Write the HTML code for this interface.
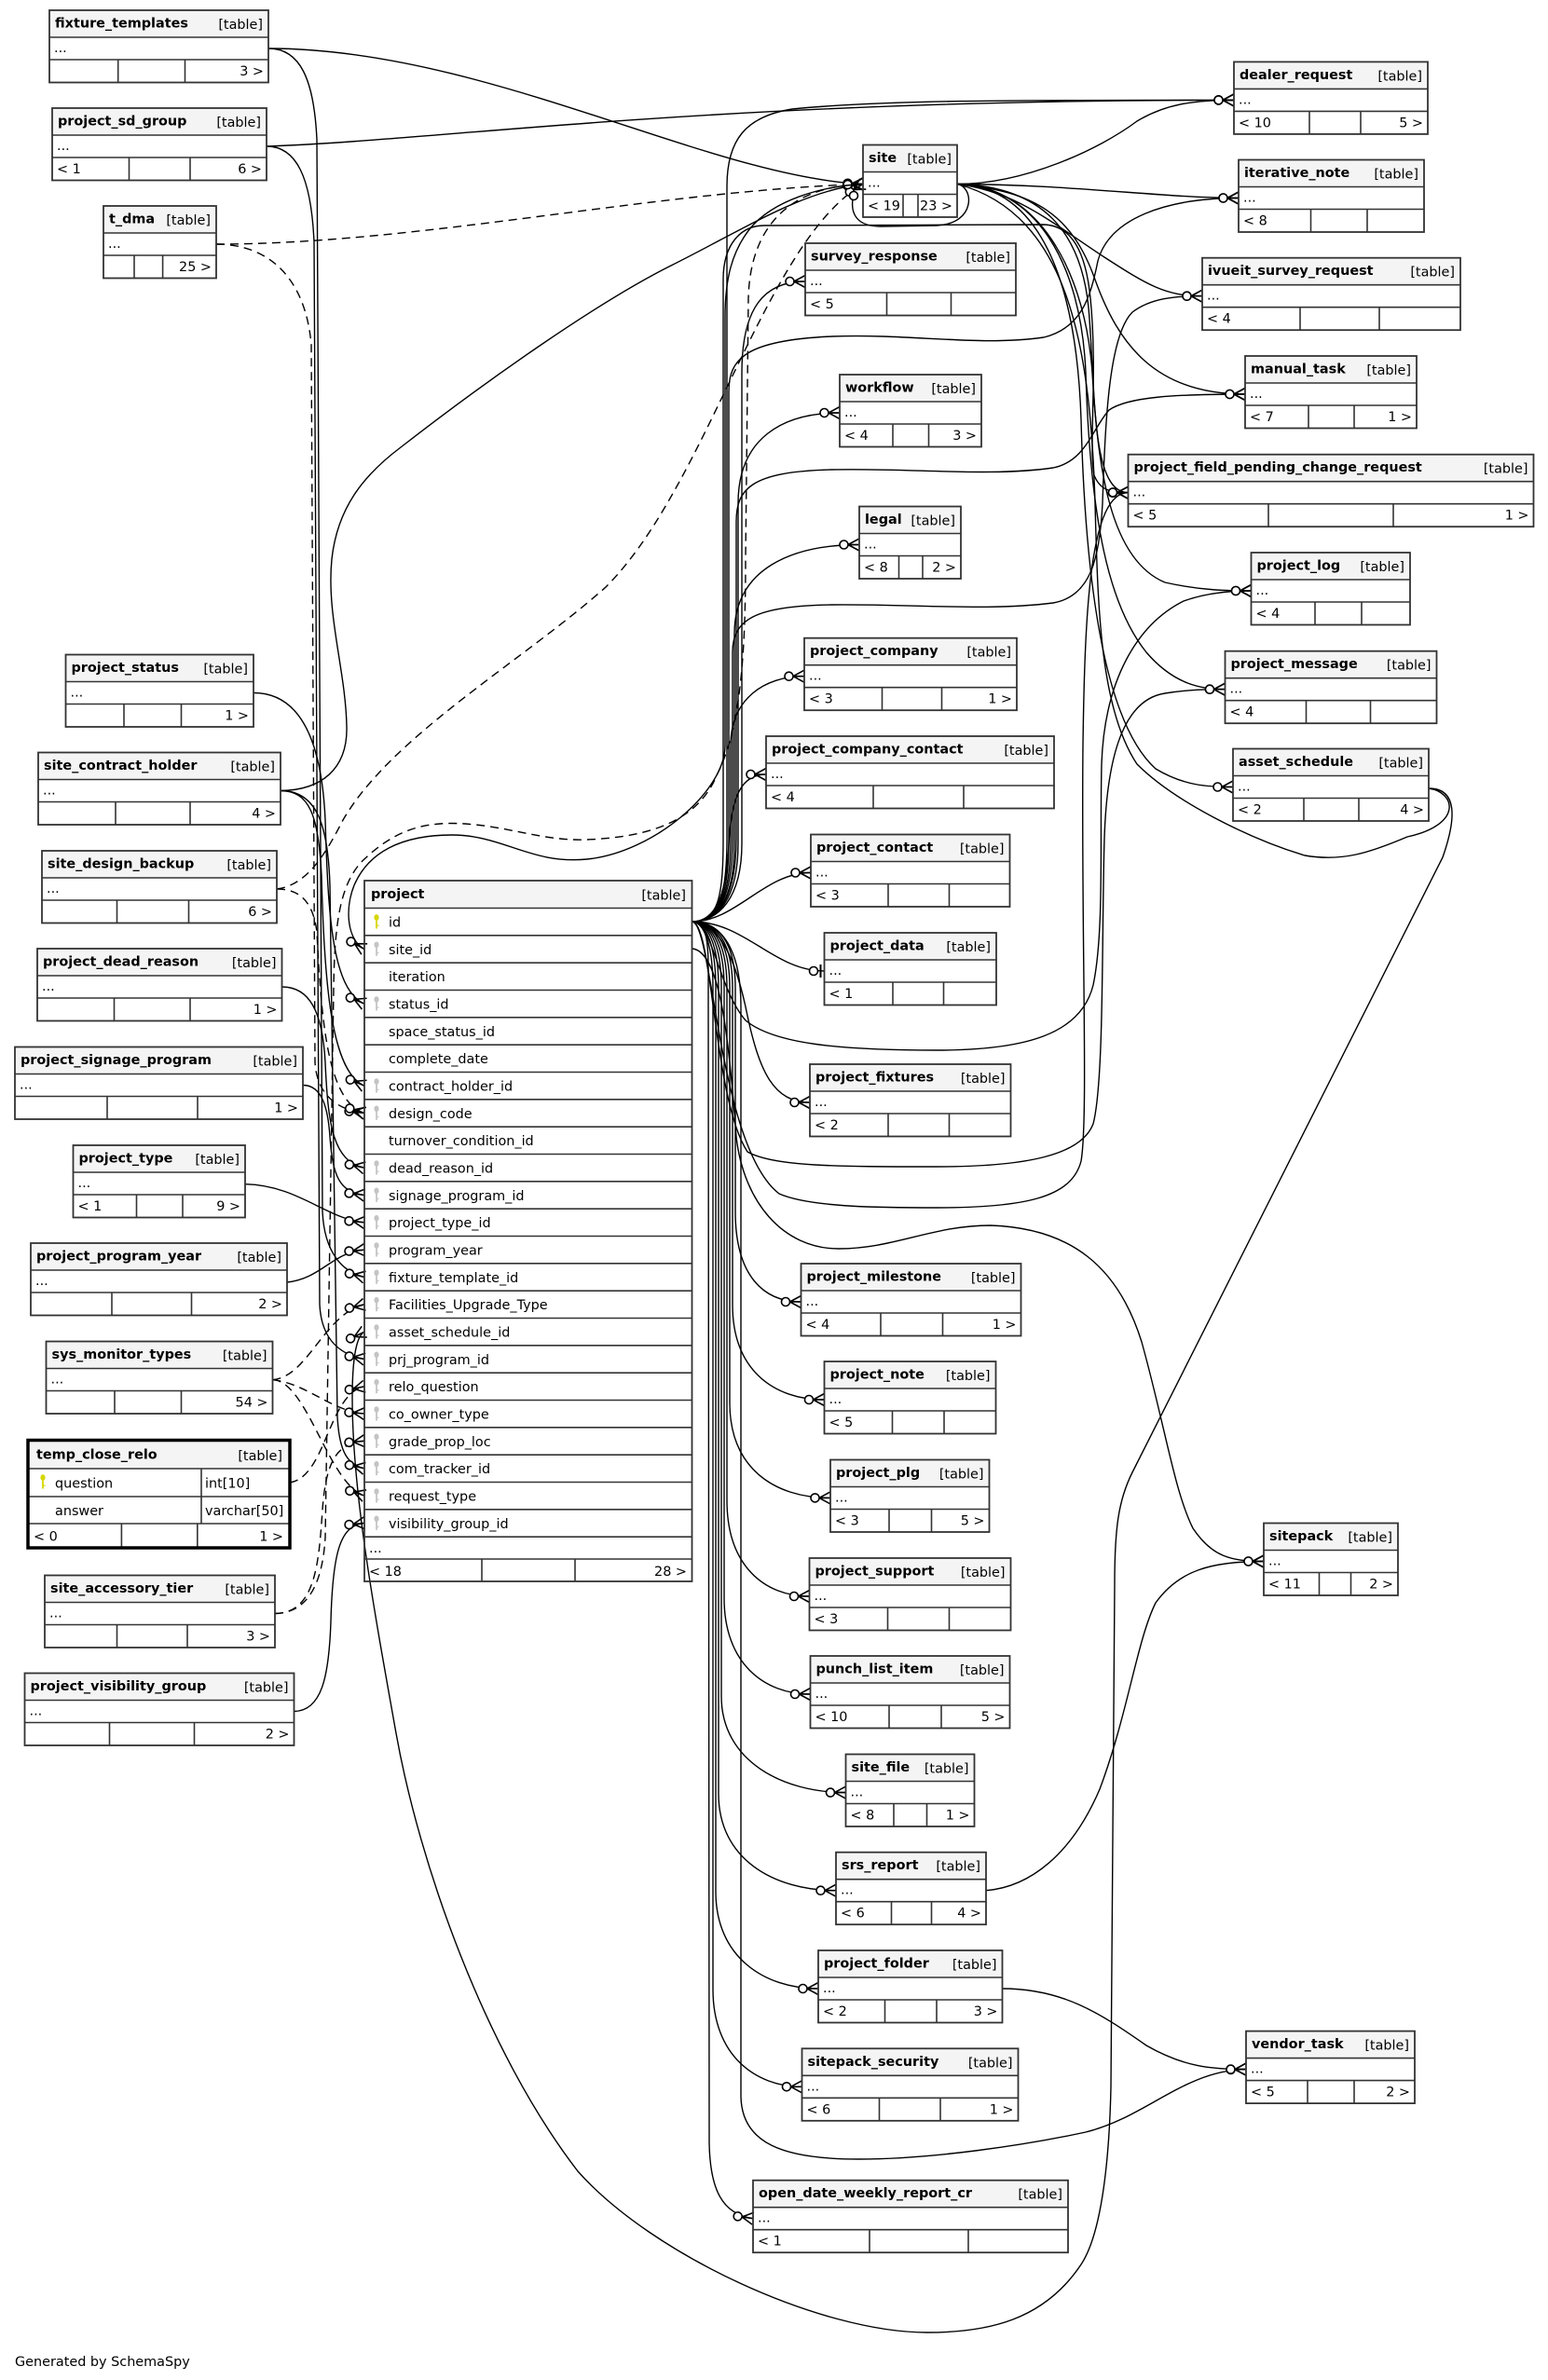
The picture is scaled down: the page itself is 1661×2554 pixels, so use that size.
<!DOCTYPE html>
<html><head><meta charset="utf-8"><style>
html,body{margin:0;padding:0;background:#fff}
svg{display:block}
.h{fill:#f4f4f4}
.b{fill:none;stroke:#333;stroke-width:1.8}
.s{fill:none;stroke:#333;stroke-width:1.6}
.n{font-weight:bold}
.e{text-anchor:end}
.c{fill:none;stroke:#000;stroke-width:1.4}
.d{stroke-dasharray:9 6}
text{fill:#000}
</style></head><body>
<svg xmlns="http://www.w3.org/2000/svg" width="1661" height="2554" viewBox="0 0 1661 2554" font-family="'DejaVu Sans', sans-serif" font-size="14.4">
<defs>
<marker id="m" markerUnits="userSpaceOnUse" markerWidth="40" markerHeight="30" viewBox="-30 -15 40 30" refX="0" refY="0" orient="auto">
<path d="M-12,0L0,-6.5M-12,0L0,0M-12,0L0,6.5" stroke="#000" stroke-width="1.6" fill="none"/>
<circle cx="-16.5" cy="0" r="4.5" fill="#fff" stroke="#000" stroke-width="1.6"/>
</marker>
<marker id="o" markerUnits="userSpaceOnUse" markerWidth="40" markerHeight="30" viewBox="-30 -15 40 30" refX="0" refY="0" orient="auto">
<path d="M-4,-7V7" stroke="#000" stroke-width="2" fill="none"/>
<circle cx="-11.5" cy="0" r="4.5" fill="#fff" stroke="#000" stroke-width="1.6"/>
</marker>
<g id="kp"><ellipse cx="0" cy="0" rx="2.6" ry="3.3" fill="#d6d600"/><rect x="-0.9" y="2" width="1.8" height="10" fill="#d6d600"/><rect x="0.9" y="8" width="1.6" height="1.3" fill="#d6d600"/></g>
<g id="kf"><ellipse cx="0" cy="0" rx="2.6" ry="3.3" fill="#c4c4c4"/><rect x="-0.9" y="2" width="1.8" height="10" fill="#c4c4c4"/><rect x="0.9" y="8" width="1.6" height="1.3" fill="#c4c4c4"/></g>
</defs>
<rect width="1661" height="2554" fill="#fff"/>

<!-- ===== connectors ===== -->
<g class="c">
<path marker-end="url(#m)" d="M288,52 C520,52 760,190 926,197.5"/>
<path marker-end="url(#m)" d="M288,52 C322,52 337,85 340,150 L346,1300 C348,1345 368,1365 391,1370.5"/>
<path marker-end="url(#m)" d="M286,157 C480,150 760,107.4 1324,107.4"/>
<path marker-end="url(#m)" d="M286,157 C318,157 334,190 337,260 L343,1400 C345,1440 367,1454 391,1458.5"/>
<path class="d" marker-end="url(#m)" d="M232,262 C450,262 700,205 926,197.5"/>
<path class="d" marker-end="url(#m)" d="M232,262 C290,262 328,300 334,370 L338,1140 C340,1175 362,1191 391,1194.5"/>
<path marker-end="url(#m)" d="M272,743.5 C320,743.5 345,790 349,880 C352,980 356,1062 391,1077.2"/>
<path marker-end="url(#m)" d="M301,848.5 C332,848.5 342,875 345,940 C348,1060 356,1150 391,1165.2"/>
<path marker-end="url(#m)" d="M301,848.5 C345,848 373,825 372,780 C371,720 350,660 356,600 C362,545 390,510 430,480 C520,410 640,325 720,285 C800,245 860,205 926,197.5"/>
<path marker-end="url(#m)" d="M301,848.5 C340,848.5 352,885 354,950 L362,1520 C364,1560 374,1572 391,1575.8"/>
<path class="d" marker-end="url(#m)" d="M297,954 C322,954 336,968 340,1000 C345,1100 352,1182 391,1194.5"/>
<path class="d" marker-end="url(#m)" d="M297,954 C330,950 350,915 368,880 C420,790 560,710 650,630 C760,520 820,260 926,197.5"/>
<path marker-end="url(#m)" d="M302.5,1059 C332,1059 346,1085 349,1140 C352,1210 358,1246 391,1253.2"/>
<path marker-end="url(#m)" d="M325,1164.5 C346,1164.5 352,1190 354,1220 C357,1262 364,1279 391,1282.5"/>
<path marker-end="url(#m)" d="M263,1270.7 C320,1272 350,1308 391,1311.8"/>
<path marker-end="url(#m)" d="M308,1376 C345,1372 356,1344 391,1341.2"/>
<path class="d" marker-end="url(#m)" d="M292.5,1480.6 C330,1478 348,1410 391,1399.8"/>
<path class="d" marker-end="url(#m)" d="M311,1591 C350,1585 352,1496 391,1487.8"/>
<path class="d" marker-end="url(#m)" d="M292.5,1480.6 C330,1485 355,1514 391,1517"/>
<path class="d" marker-end="url(#m)" d="M295,1731.5 C338,1731 342,1680 346,1620 C350,1566 362,1549 391,1546.3"/>
<path class="d" marker-end="url(#m)" d="M292.5,1480.6 C330,1482 352,1592 391,1605"/>
<path marker-end="url(#m)" d="M315.5,1836.5 C345,1836 353,1800 355,1740 C357,1662 366,1637 391,1634.4"/>
<path class="d" marker-end="url(#m)" d="M295,1731.5 C330,1731 346,1700 349,1650 L358,1060 C359,990 365,950 387.8,925 C420,893 450,883.5 484.7,883.5 C540,884 580,903 630,901 C700,898 750,880 770,830 C795,780 800,700 800,600 L803,320 C805,240 850,200 926,197.5"/>
<path marker-end="url(#m)" d="M1533,846 C1565,846 1562,880 1548,920 L1215,1580 C1200,1610 1196,1640 1196,1700 L1192,2240 C1190,2330 1180,2400 1160,2430 C1120,2490 1060,2503 995,2503 C880,2503 700,2420 620,2330 C520,2200 450,2000 425,1860 C400,1720 378,1600 378,1500 C378,1455 383,1433 391,1429.2"/>
<path d="M1027,197.5 C1045,200 1048,240 1005,242 L945,243 C918,243 913,228 915,214"/>
<path marker-end="url(#m)" d="M926,197.5 C880,200 830,215 805,245 C785,270 778,300 778,340 L778,800 C778,850 700,915 630,922 C570,928 540,896 484.7,896 C430,896 395,915 380,950 C370,975 372,1008 391,1018.5"/>
<path marker-end="url(#m)" d="M742.5,989 C770,989 776,965 776,900 L776,300 C776,262 795,242 820,242 L1120,241 C1150,242 1165,270 1170,320 C1178,400 1168,480 1174,510 C1180,525 1190,528.7 1210.5,528.7"/>

<path marker-end="url(#m)" d="M742.5,989 C770,989 796,965 796,905 L796,400 C796,330 820,302 864,302"/>
<path marker-end="url(#m)" d="M742.5,989 C770,989 792,965 792,905 L792,540 C792,470 840,443 901,443"/>
<path marker-end="url(#m)" d="M742.5,989 C770,989 788,965 788,905 L788,680 C788,610 850,584.5 922,584.5"/>
<path marker-end="url(#m)" d="M742.5,989 C770,989 784,965 784,900 L784,800 C784,750 820,725.7 863,725.7"/>
<path marker-end="url(#m)" d="M742.5,989 C772,989 780,950 782,905 C785,855 795,831 822,831"/>
<path marker-end="url(#m)" d="M742.5,989 C790,989 820,936.5 870,936.5"/>
<path marker-end="url(#o)" d="M742.5,989 C800,989 830,1042 884.5,1042"/>
<path marker-end="url(#m)" d="M742.5,989 C775,989 792,1040 802,1090 C815,1150 830,1183 869,1183"/>
<path marker-end="url(#m)" d="M742.5,989 C770,989 789,1010 789,1060 L789,1300 C789,1370 820,1397 859.5,1397"/>
<path marker-end="url(#m)" d="M742.5,989 C768,989 786,1010 786,1060 L786,1400 C786,1470 830,1502 884.5,1502"/>
<path marker-end="url(#m)" d="M742.5,989 C766,989 783,1010 783,1060 L783,1505 C783,1575 830,1607.4 891,1607.4"/>
<path marker-end="url(#m)" d="M742.5,989 C764,989 780,1010 780,1060 L780,1610 C780,1680 820,1713 868.5,1713"/>
<path marker-end="url(#m)" d="M742.5,989 C762,989 777,1010 777,1060 L777,1715 C777,1785 820,1818 869.5,1818"/>
<path marker-end="url(#m)" d="M742.5,989 C760,989 774,1010 774,1060 L774,1820 C774,1890 840,1923.6 907.5,1923.6"/>
<path marker-end="url(#m)" d="M742.5,989 C758,989 771,1010 771,1060 L771,1925 C771,1995 830,2028.7 897,2028.7"/>
<path marker-end="url(#m)" d="M742.5,989 C756,989 768,1010 768,1060 L768,2030 C768,2100 820,2134 878,2134"/>
<path marker-end="url(#m)" d="M742.5,989 C754,989 765,1010 765,1060 L765,2135 C765,2205 810,2239.3 860.5,2239.3"/>
<path marker-end="url(#m)" d="M742.5,989 C762,989 760,1020 760,1070 L761,2300 C762,2350 775,2376 808,2380.7"/>
<path marker-end="url(#m)" d="M742.5,989 C775,989 795,1020 795,1080 L795,2250 C796,2300 840,2317 921,2317 C1000,2317 1100,2302 1165,2288 C1230,2272 1270,2222 1337,2220.6"/>
<path marker-end="url(#m)" d="M742.5,1018 C772,1020 782,1110 790,1220 C798,1290 840,1340 900,1340 C960,1340 1000,1315 1063,1315 C1150,1318 1200,1360 1225,1440 C1250,1530 1260,1600 1280,1640 C1300,1670 1320,1675.5 1356,1675.5"/>
<path marker-end="url(#m)" d="M742.5,989 C770,989 780,965 780,900 L780,200 C780,150 800,125 850,117 C950,107 1100,107.4 1324,107.4"/>
<path marker-end="url(#m)" d="M742.5,989 C770,989 782,965 782,900 L782,420 C782,385 800,365 893,361 C980,358 1050,372 1120,362 C1160,352 1170,320 1178,280 C1190,235 1250,212.5 1329,212.5"/>
<path marker-end="url(#m)" d="M742.5,989 C770,989 790,965 790,900 L790,560 C790,525 805,506 892,504 C980,502 1060,512 1130,502 C1165,495 1172,460 1190,440 C1210,426 1260,423 1336,423"/>
<path marker-end="url(#m)" d="M742.5,989 C770,989 786,965 786,900 L786,700 C786,665 810,650 892,649 C980,648 1060,656 1130,647 C1170,640 1180,600 1183,540 C1186,450 1190,360 1215,335 C1235,320 1260,317.7 1290,317.7"/>
<path marker-end="url(#m)" d="M742.5,989 C765,989 770,1060 800,1095 C830,1120 900,1127 1005,1127 C1100,1127 1160,1110 1173,1057 C1185,1000 1180,900 1182,820 C1185,730 1220,670 1270,645 C1295,636 1320,634 1342.5,634"/>
<path marker-end="url(#m)" d="M742.5,989 C765,989 765,1180 802,1236 C830,1252 900,1252 1005,1252 C1100,1252 1160,1240 1173,1206 C1185,1160 1182,1000 1185,900 C1188,800 1210,750 1250,744 C1275,740 1295,739.7 1314.5,739.7"/>
<path marker-end="url(#m)" d="M742.5,989 C765,989 770,1230 836,1281 C870,1296 950,1296 1005,1296 C1100,1296 1150,1285 1160,1246 C1168,1200 1160,1000 1162,800 C1164,650 1170,528.7 1210.5,528.7"/>

<path marker-end="url(#m)" d="M1027,197.5 C1100,197.5 1180,160 1220,130 C1250,112 1280,107.4 1324,107.4"/>
<path marker-end="url(#m)" d="M1027,197.5 C1150,198 1250,212.5 1329,212.5"/>
<path marker-end="url(#m)" d="M1027,197.5 C1090,205 1130,240 1185,276 C1230,305 1250,317.7 1290,317.7"/>
<path marker-end="url(#m)" d="M1027,197.5 C1110,205 1150,230 1175,300 C1200,370 1240,423 1336,423"/>
<path marker-end="url(#m)" d="M1027,197.5 C1120,200 1160,250 1168,330 C1176,420 1170,528 1210.5,528.7"/>
<path marker-end="url(#m)" d="M1027,197.5 C1120,200 1165,300 1172,400 C1178,500 1190,600 1250,625 C1290,634 1320,634 1342.5,634"/>
<path marker-end="url(#m)" d="M1027,197.5 C1110,200 1160,280 1165,400 C1170,560 1190,650 1230,700 C1260,735 1290,739.7 1314.5,739.7"/>
<path marker-end="url(#m)" d="M1027,197.5 C1115,200 1155,300 1160,450 C1165,650 1190,780 1240,825 C1270,843 1295,844.5 1323,844.5"/>
<path d="M1533,846 C1562,850 1570,885 1510,898 C1470,915 1440,925 1400,918 C1340,900 1260,860 1220,820 C1180,760 1178,650 1175,540 C1170,380 1150,230 1027,197.5"/>
<path marker-end="url(#m)" d="M1058,2028.7 C1105,2025 1150,1990 1180,1920 C1210,1840 1220,1760 1240,1720 C1265,1685 1300,1675.5 1356,1675.5"/>
<path marker-end="url(#m)" d="M1075.5,2134 C1140,2134 1180,2160 1230,2195 C1270,2218 1300,2220.6 1337,2220.6"/>
</g>
<circle cx="916" cy="210" r="4.5" fill="#fff" stroke="#000" stroke-width="1.6"/>

<!-- ===== tables ===== -->
<g transform="translate(53,11)"><rect class="h" width="235" height="29"/><rect class="b" width="235" height="77.5"/><path class="s" d="M0,29H235M0,53H235M73.7,53V77.5M145.5,53V77.5"/><text class="n" x="6" y="18.5">fixture_templates</text><text class="e" x="229" y="20">[table]</text><text x="5" y="45">...</text><text class="e" x="230" y="70">3 &gt;</text></g>
<g transform="translate(56,116)"><rect class="h" width="230" height="29"/><rect class="b" width="230" height="77.5"/><path class="s" d="M0,29H230M0,53H230M82.5,53V77.5M148,53V77.5"/><text class="n" x="6" y="18.5">project_sd_group</text><text class="e" x="224" y="20">[table]</text><text x="5" y="45">...</text><text x="5" y="70">&lt; 1</text><text class="e" x="225" y="70">6 &gt;</text></g>
<g transform="translate(111,221)"><rect class="h" width="121" height="29"/><rect class="b" width="121" height="77.5"/><path class="s" d="M0,29H121M0,53H121M33,53V77.5M63.6,53V77.5"/><text class="n" x="6" y="18.5">t_dma</text><text class="e" x="115" y="20">[table]</text><text x="5" y="45">...</text><text class="e" x="116" y="70">25 &gt;</text></g>
<g transform="translate(70.5,702.5)"><rect class="h" width="201.5" height="29"/><rect class="b" width="201.5" height="77.5"/><path class="s" d="M0,29H201.5M0,53H201.5M62.5,53V77.5M124,53V77.5"/><text class="n" x="6" y="18.5">project_status</text><text class="e" x="195.5" y="20">[table]</text><text x="5" y="45">...</text><text class="e" x="196.5" y="70">1 &gt;</text></g>
<g transform="translate(41,807.5)"><rect class="h" width="260" height="29"/><rect class="b" width="260" height="77.5"/><path class="s" d="M0,29H260M0,53H260M83,53V77.5M163,53V77.5"/><text class="n" x="6" y="18.5">site_contract_holder</text><text class="e" x="254" y="20">[table]</text><text x="5" y="45">...</text><text class="e" x="255" y="70">4 &gt;</text></g>
<g transform="translate(45,913)"><rect class="h" width="252" height="29"/><rect class="b" width="252" height="77.5"/><path class="s" d="M0,29H252M0,53H252M80.5,53V77.5M157.5,53V77.5"/><text class="n" x="6" y="18.5">site_design_backup</text><text class="e" x="246" y="20">[table]</text><text x="5" y="45">...</text><text class="e" x="247" y="70">6 &gt;</text></g>
<g transform="translate(40,1018)"><rect class="h" width="262.5" height="29"/><rect class="b" width="262.5" height="77.5"/><path class="s" d="M0,29H262.5M0,53H262.5M82.5,53V77.5M164,53V77.5"/><text class="n" x="6" y="18.5">project_dead_reason</text><text class="e" x="256.5" y="20">[table]</text><text x="5" y="45">...</text><text class="e" x="257.5" y="70">1 &gt;</text></g>
<g transform="translate(16,1123.5)"><rect class="h" width="309" height="29"/><rect class="b" width="309" height="77.5"/><path class="s" d="M0,29H309M0,53H309M99,53V77.5M196,53V77.5"/><text class="n" x="6" y="18.5">project_signage_program</text><text class="e" x="303" y="20">[table]</text><text x="5" y="45">...</text><text class="e" x="304" y="70">1 &gt;</text></g>
<g transform="translate(78.5,1229)"><rect class="h" width="184.5" height="29"/><rect class="b" width="184.5" height="77.5"/><path class="s" d="M0,29H184.5M0,53H184.5M68,53V77.5M117.5,53V77.5"/><text class="n" x="6" y="18.5">project_type</text><text class="e" x="178.5" y="20">[table]</text><text x="5" y="45">...</text><text x="5" y="70">&lt; 1</text><text class="e" x="179.5" y="70">9 &gt;</text></g>
<g transform="translate(33,1334)"><rect class="h" width="275" height="29"/><rect class="b" width="275" height="77.5"/><path class="s" d="M0,29H275M0,53H275M87,53V77.5M172.5,53V77.5"/><text class="n" x="6" y="18.5">project_program_year</text><text class="e" x="269" y="20">[table]</text><text x="5" y="45">...</text><text class="e" x="270" y="70">2 &gt;</text></g>
<g transform="translate(49.5,1439.5)"><rect class="h" width="243" height="29"/><rect class="b" width="243" height="77.5"/><path class="s" d="M0,29H243M0,53H243M73.5,53V77.5M145,53V77.5"/><text class="n" x="6" y="18.5">sys_monitor_types</text><text class="e" x="237" y="20">[table]</text><text x="5" y="45">...</text><text class="e" x="238" y="70">54 &gt;</text></g>
<g transform="translate(48,1690.5)"><rect class="h" width="247" height="29"/><rect class="b" width="247" height="77.5"/><path class="s" d="M0,29H247M0,53H247M77.5,53V77.5M153,53V77.5"/><text class="n" x="6" y="18.5">site_accessory_tier</text><text class="e" x="241" y="20">[table]</text><text x="5" y="45">...</text><text class="e" x="242" y="70">3 &gt;</text></g>
<g transform="translate(26.5,1795.5)"><rect class="h" width="289" height="29"/><rect class="b" width="289" height="77.5"/><path class="s" d="M0,29H289M0,53H289M91,53V77.5M182,53V77.5"/><text class="n" x="6" y="18.5">project_visibility_group</text><text class="e" x="283" y="20">[table]</text><text x="5" y="45">...</text><text class="e" x="284" y="70">2 &gt;</text></g>

<g transform="translate(30,1545.5)"><rect class="h" width="281" height="30.5"/><path class="s" d="M0,30.5H281M0,60.5H281M0,89.5H281M186,30.5V89.5M100.4,89.5V115.5M181.8,89.5V115.5"/><rect width="281" height="115.5" fill="none" stroke="#000" stroke-width="3.5"/><text class="n" x="9" y="20">temp_close_relo</text><text class="e" x="273" y="21.5">[table]</text><use href="#kp" x="16" y="40"/><text x="29" y="51">question</text><text x="190" y="51">int[10]</text><text x="29" y="80.5">answer</text><text x="190" y="80.5">varchar[50]</text><text x="6" y="108">&lt; 0</text><text class="e" x="274" y="108">1 &gt;</text></g>

<g transform="translate(391,945)"><rect class="h" width="351.5" height="29.5"/><rect class="b" width="351.5" height="752"/>
<path class="s" d="M0,29.5H351.5M0,58.83H351.5M0,88.17H351.5M0,117.5H351.5M0,146.83H351.5M0,176.17H351.5M0,205.5H351.5M0,234.83H351.5M0,264.17H351.5M0,293.5H351.5M0,322.83H351.5M0,352.17H351.5M0,381.5H351.5M0,410.83H351.5M0,440.17H351.5M0,469.5H351.5M0,498.83H351.5M0,528.17H351.5M0,557.5H351.5M0,586.83H351.5M0,616.17H351.5M0,645.5H351.5M0,674.83H351.5M0,704.17H351.5M0,728H351.5M126,728V752M226,728V752"/>
<text class="n" x="7" y="19">project</text><text class="e" x="345" y="20.5">[table]</text>
<use href="#kp" x="13" y="39.5"/><text x="26" y="49.5">id</text>
<use href="#kf" x="13" y="68.83"/><text x="26" y="78.83">site_id</text>
<text x="26" y="108.17">iteration</text>
<use href="#kf" x="13" y="127.5"/><text x="26" y="137.5">status_id</text>
<text x="26" y="166.83">space_status_id</text>
<text x="26" y="196.17">complete_date</text>
<use href="#kf" x="13" y="215.5"/><text x="26" y="225.5">contract_holder_id</text>
<use href="#kf" x="13" y="244.83"/><text x="26" y="254.83">design_code</text>
<text x="26" y="284.17">turnover_condition_id</text>
<use href="#kf" x="13" y="303.5"/><text x="26" y="313.5">dead_reason_id</text>
<use href="#kf" x="13" y="332.83"/><text x="26" y="342.83">signage_program_id</text>
<use href="#kf" x="13" y="362.17"/><text x="26" y="372.17">project_type_id</text>
<use href="#kf" x="13" y="391.5"/><text x="26" y="401.5">program_year</text>
<use href="#kf" x="13" y="420.83"/><text x="26" y="430.83">fixture_template_id</text>
<use href="#kf" x="13" y="450.17"/><text x="26" y="460.17">Facilities_Upgrade_Type</text>
<use href="#kf" x="13" y="479.5"/><text x="26" y="489.5">asset_schedule_id</text>
<use href="#kf" x="13" y="508.83"/><text x="26" y="518.83">prj_program_id</text>
<use href="#kf" x="13" y="538.17"/><text x="26" y="548.17">relo_question</text>
<use href="#kf" x="13" y="567.5"/><text x="26" y="577.5">co_owner_type</text>
<use href="#kf" x="13" y="596.83"/><text x="26" y="606.83">grade_prop_loc</text>
<use href="#kf" x="13" y="626.17"/><text x="26" y="636.17">com_tracker_id</text>
<use href="#kf" x="13" y="655.5"/><text x="26" y="665.5">request_type</text>
<use href="#kf" x="13" y="684.83"/><text x="26" y="694.83">visibility_group_id</text>
<text x="5" y="721">...</text><text x="5" y="746">&lt; 18</text><text class="e" x="346" y="746">28 &gt;</text></g>

<g transform="translate(926,155.5)"><rect class="h" width="101" height="29"/><rect class="b" width="101" height="77.5"/><path class="s" d="M0,29H101M0,53H101M43,53V77.5M59,53V77.5"/><text class="n" x="6" y="18.5">site</text><text class="e" x="95" y="20">[table]</text><text x="5" y="45">...</text><text x="5" y="70">&lt; 19</text><text class="e" x="96" y="70">23 &gt;</text></g>
<g transform="translate(864,261)"><rect class="h" width="226" height="29"/><rect class="b" width="226" height="77.5"/><path class="s" d="M0,29H226M0,53H226M87.5,53V77.5M156.5,53V77.5"/><text class="n" x="6" y="18.5">survey_response</text><text class="e" x="220" y="20">[table]</text><text x="5" y="45">...</text><text x="5" y="70">&lt; 5</text></g>
<g transform="translate(901,402)"><rect class="h" width="152" height="29"/><rect class="b" width="152" height="77.5"/><path class="s" d="M0,29H152M0,53H152M57,53V77.5M95.5,53V77.5"/><text class="n" x="6" y="18.5">workflow</text><text class="e" x="146" y="20">[table]</text><text x="5" y="45">...</text><text x="5" y="70">&lt; 4</text><text class="e" x="147" y="70">3 &gt;</text></g>
<g transform="translate(922,543.5)"><rect class="h" width="109" height="29"/><rect class="b" width="109" height="77.5"/><path class="s" d="M0,29H109M0,53H109M42.5,53V77.5M68,53V77.5"/><text class="n" x="6" y="18.5">legal</text><text class="e" x="103" y="20">[table]</text><text x="5" y="45">...</text><text x="5" y="70">&lt; 8</text><text class="e" x="104" y="70">2 &gt;</text></g>
<g transform="translate(863,684.7)"><rect class="h" width="228" height="29"/><rect class="b" width="228" height="77.5"/><path class="s" d="M0,29H228M0,53H228M83.5,53V77.5M147.5,53V77.5"/><text class="n" x="6" y="18.5">project_company</text><text class="e" x="222" y="20">[table]</text><text x="5" y="45">...</text><text x="5" y="70">&lt; 3</text><text class="e" x="223" y="70">1 &gt;</text></g>
<g transform="translate(822,790)"><rect class="h" width="309" height="29"/><rect class="b" width="309" height="77.5"/><path class="s" d="M0,29H309M0,53H309M115,53V77.5M212,53V77.5"/><text class="n" x="6" y="18.5">project_company_contact</text><text class="e" x="303" y="20">[table]</text><text x="5" y="45">...</text><text x="5" y="70">&lt; 4</text></g>
<g transform="translate(870,895.5)"><rect class="h" width="213.5" height="29"/><rect class="b" width="213.5" height="77.5"/><path class="s" d="M0,29H213.5M0,53H213.5M83,53V77.5M148.5,53V77.5"/><text class="n" x="6" y="18.5">project_contact</text><text class="e" x="207.5" y="20">[table]</text><text x="5" y="45">...</text><text x="5" y="70">&lt; 3</text></g>
<g transform="translate(884.5,1001)"><rect class="h" width="184.5" height="29"/><rect class="b" width="184.5" height="77.5"/><path class="s" d="M0,29H184.5M0,53H184.5M73.5,53V77.5M128,53V77.5"/><text class="n" x="6" y="18.5">project_data</text><text class="e" x="178.5" y="20">[table]</text><text x="5" y="45">...</text><text x="5" y="70">&lt; 1</text></g>
<g transform="translate(869,1142)"><rect class="h" width="215.5" height="29"/><rect class="b" width="215.5" height="77.5"/><path class="s" d="M0,29H215.5M0,53H215.5M84,53V77.5M149.5,53V77.5"/><text class="n" x="6" y="18.5">project_fixtures</text><text class="e" x="209.5" y="20">[table]</text><text x="5" y="45">...</text><text x="5" y="70">&lt; 2</text></g>
<g transform="translate(859.5,1356)"><rect class="h" width="236" height="29"/><rect class="b" width="236" height="77.5"/><path class="s" d="M0,29H236M0,53H236M85.5,53V77.5M152,53V77.5"/><text class="n" x="6" y="18.5">project_milestone</text><text class="e" x="230" y="20">[table]</text><text x="5" y="45">...</text><text x="5" y="70">&lt; 4</text><text class="e" x="231" y="70">1 &gt;</text></g>
<g transform="translate(884.5,1461)"><rect class="h" width="184" height="29"/><rect class="b" width="184" height="77.5"/><path class="s" d="M0,29H184M0,53H184M73,53V77.5M128.5,53V77.5"/><text class="n" x="6" y="18.5">project_note</text><text class="e" x="178" y="20">[table]</text><text x="5" y="45">...</text><text x="5" y="70">&lt; 5</text></g>
<g transform="translate(891,1566.5)"><rect class="h" width="170.5" height="29"/><rect class="b" width="170.5" height="77.5"/><path class="s" d="M0,29H170.5M0,53H170.5M63,53V77.5M108.5,53V77.5"/><text class="n" x="6" y="18.5">project_plg</text><text class="e" x="164.5" y="20">[table]</text><text x="5" y="45">...</text><text x="5" y="70">&lt; 3</text><text class="e" x="165.5" y="70">5 &gt;</text></g>
<g transform="translate(868.5,1672)"><rect class="h" width="216" height="29"/><rect class="b" width="216" height="77.5"/><path class="s" d="M0,29H216M0,53H216M84,53V77.5M150,53V77.5"/><text class="n" x="6" y="18.5">project_support</text><text class="e" x="210" y="20">[table]</text><text x="5" y="45">...</text><text x="5" y="70">&lt; 3</text></g>
<g transform="translate(869.5,1777)"><rect class="h" width="214" height="29"/><rect class="b" width="214" height="77.5"/><path class="s" d="M0,29H214M0,53H214M84.5,53V77.5M140.5,53V77.5"/><text class="n" x="6" y="18.5">punch_list_item</text><text class="e" x="208" y="20">[table]</text><text x="5" y="45">...</text><text x="5" y="70">&lt; 10</text><text class="e" x="209" y="70">5 &gt;</text></g>
<g transform="translate(907.5,1882.5)"><rect class="h" width="138" height="29"/><rect class="b" width="138" height="77.5"/><path class="s" d="M0,29H138M0,53H138M51.5,53V77.5M87,53V77.5"/><text class="n" x="6" y="18.5">site_file</text><text class="e" x="132" y="20">[table]</text><text x="5" y="45">...</text><text x="5" y="70">&lt; 8</text><text class="e" x="133" y="70">1 &gt;</text></g>
<g transform="translate(897,1987.7)"><rect class="h" width="161" height="29"/><rect class="b" width="161" height="77.5"/><path class="s" d="M0,29H161M0,53H161M59.5,53V77.5M102.5,53V77.5"/><text class="n" x="6" y="18.5">srs_report</text><text class="e" x="155" y="20">[table]</text><text x="5" y="45">...</text><text x="5" y="70">&lt; 6</text><text class="e" x="156" y="70">4 &gt;</text></g>
<g transform="translate(878,2093)"><rect class="h" width="197.5" height="29"/><rect class="b" width="197.5" height="77.5"/><path class="s" d="M0,29H197.5M0,53H197.5M71.5,53V77.5M127,53V77.5"/><text class="n" x="6" y="18.5">project_folder</text><text class="e" x="191.5" y="20">[table]</text><text x="5" y="45">...</text><text x="5" y="70">&lt; 2</text><text class="e" x="192.5" y="70">3 &gt;</text></g>
<g transform="translate(860.5,2198.3)"><rect class="h" width="232" height="29"/><rect class="b" width="232" height="77.5"/><path class="s" d="M0,29H232M0,53H232M83,53V77.5M148.5,53V77.5"/><text class="n" x="6" y="18.5">sitepack_security</text><text class="e" x="226" y="20">[table]</text><text x="5" y="45">...</text><text x="5" y="70">&lt; 6</text><text class="e" x="227" y="70">1 &gt;</text></g>
<g transform="translate(808,2339.7)"><rect class="h" width="338" height="29"/><rect class="b" width="338" height="77.5"/><path class="s" d="M0,29H338M0,53H338M125,53V77.5M231,53V77.5"/><text class="n" x="6" y="18.5">open_date_weekly_report_cr</text><text class="e" x="332" y="20">[table]</text><text x="5" y="45">...</text><text x="5" y="70">&lt; 1</text></g>

<g transform="translate(1324,66.4)"><rect class="h" width="208" height="29"/><rect class="b" width="208" height="77.5"/><path class="s" d="M0,29H208M0,53H208M81,53V77.5M136,53V77.5"/><text class="n" x="6" y="18.5">dealer_request</text><text class="e" x="202" y="20">[table]</text><text x="5" y="45">...</text><text x="5" y="70">&lt; 10</text><text class="e" x="203" y="70">5 &gt;</text></g>
<g transform="translate(1329,171.5)"><rect class="h" width="199" height="29"/><rect class="b" width="199" height="77.5"/><path class="s" d="M0,29H199M0,53H199M77.5,53V77.5M138,53V77.5"/><text class="n" x="6" y="18.5">iterative_note</text><text class="e" x="193" y="20">[table]</text><text x="5" y="45">...</text><text x="5" y="70">&lt; 8</text></g>
<g transform="translate(1290,276.7)"><rect class="h" width="277" height="29"/><rect class="b" width="277" height="77.5"/><path class="s" d="M0,29H277M0,53H277M105,53V77.5M190,53V77.5"/><text class="n" x="6" y="18.5">ivueit_survey_request</text><text class="e" x="271" y="20">[table]</text><text x="5" y="45">...</text><text x="5" y="70">&lt; 4</text></g>
<g transform="translate(1336,382)"><rect class="h" width="184" height="29"/><rect class="b" width="184" height="77.5"/><path class="s" d="M0,29H184M0,53H184M68,53V77.5M117,53V77.5"/><text class="n" x="6" y="18.5">manual_task</text><text class="e" x="178" y="20">[table]</text><text x="5" y="45">...</text><text x="5" y="70">&lt; 7</text><text class="e" x="179" y="70">1 &gt;</text></g>
<g transform="translate(1210.5,487.7)"><rect class="h" width="435" height="29"/><rect class="b" width="435" height="77.5"/><path class="s" d="M0,29H435M0,53H435M150.5,53V77.5M284.5,53V77.5"/><text class="n" x="6" y="18.5">project_field_pending_change_request</text><text class="e" x="429" y="20">[table]</text><text x="5" y="45">...</text><text x="5" y="70">&lt; 5</text><text class="e" x="430" y="70">1 &gt;</text></g>
<g transform="translate(1342.5,593)"><rect class="h" width="170.5" height="29"/><rect class="b" width="170.5" height="77.5"/><path class="s" d="M0,29H170.5M0,53H170.5M68.5,53V77.5M118.5,53V77.5"/><text class="n" x="6" y="18.5">project_log</text><text class="e" x="164.5" y="20">[table]</text><text x="5" y="45">...</text><text x="5" y="70">&lt; 4</text></g>
<g transform="translate(1314.5,698.7)"><rect class="h" width="227" height="29"/><rect class="b" width="227" height="77.5"/><path class="s" d="M0,29H227M0,53H227M87,53V77.5M156,53V77.5"/><text class="n" x="6" y="18.5">project_message</text><text class="e" x="221" y="20">[table]</text><text x="5" y="45">...</text><text x="5" y="70">&lt; 4</text></g>
<g transform="translate(1323,803.5)"><rect class="h" width="210" height="29"/><rect class="b" width="210" height="77.5"/><path class="s" d="M0,29H210M0,53H210M76,53V77.5M135,53V77.5"/><text class="n" x="6" y="18.5">asset_schedule</text><text class="e" x="204" y="20">[table]</text><text x="5" y="45">...</text><text x="5" y="70">&lt; 2</text><text class="e" x="205" y="70">4 &gt;</text></g>
<g transform="translate(1356,1634.5)"><rect class="h" width="144" height="29"/><rect class="b" width="144" height="77.5"/><path class="s" d="M0,29H144M0,53H144M59.5,53V77.5M93.5,53V77.5"/><text class="n" x="6" y="18.5">sitepack</text><text class="e" x="138" y="20">[table]</text><text x="5" y="45">...</text><text x="5" y="70">&lt; 11</text><text class="e" x="139" y="70">2 &gt;</text></g>
<g transform="translate(1337,2179.6)"><rect class="h" width="181" height="29"/><rect class="b" width="181" height="77.5"/><path class="s" d="M0,29H181M0,53H181M66,53V77.5M116,53V77.5"/><text class="n" x="6" y="18.5">vendor_task</text><text class="e" x="175" y="20">[table]</text><text x="5" y="45">...</text><text x="5" y="70">&lt; 5</text><text class="e" x="176" y="70">2 &gt;</text></g>

<text x="16" y="2539">Generated by SchemaSpy</text>
</svg>
</body></html>
